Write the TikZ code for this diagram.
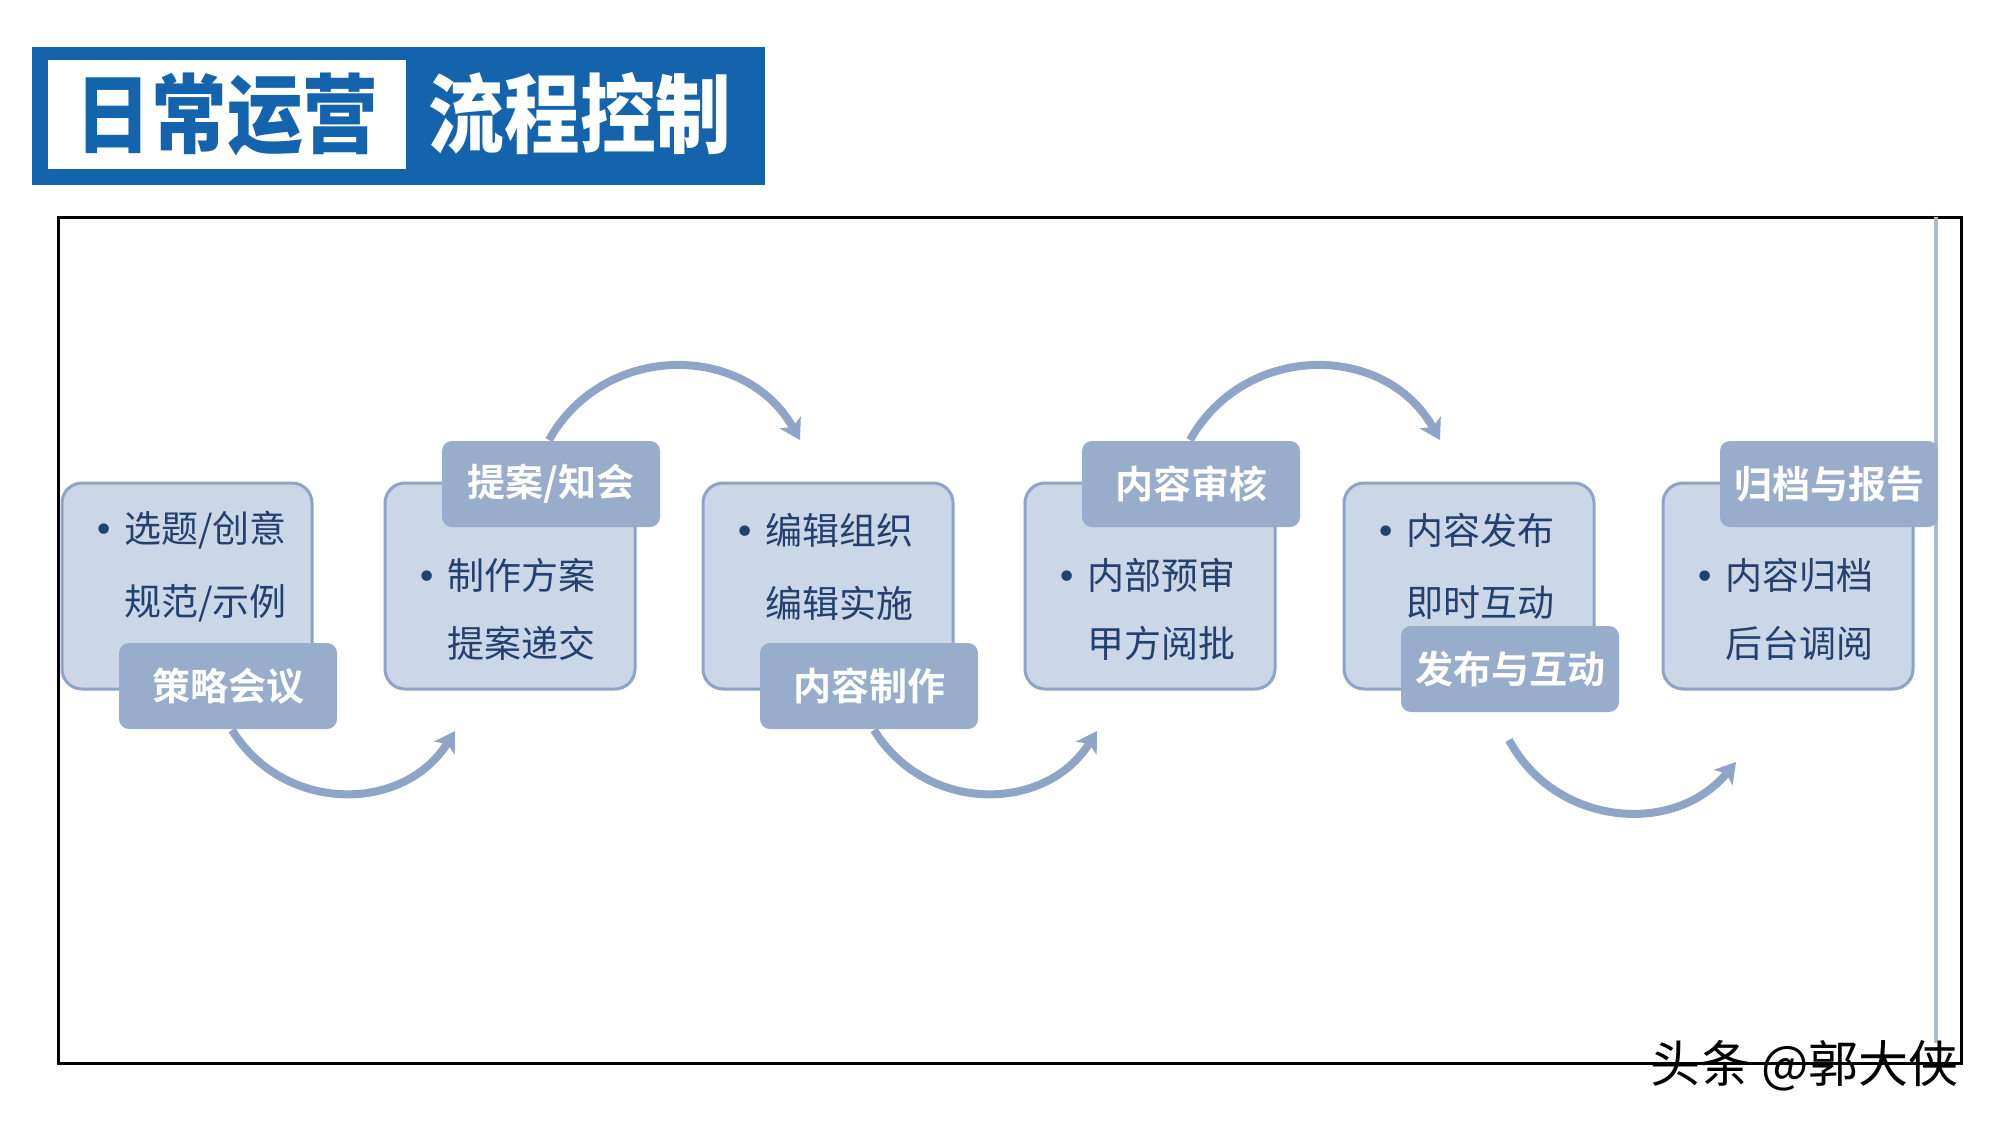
\documentclass[tikz,border=0pt]{standalone}
\usepackage{fontspec}
\usepackage{graphicx}
\usetikzlibrary{arrows.meta}
\newfontfamily\cjk{Noto Sans CJK SC}[BoldFont={Noto Sans CJK SC Bold}]
\newfontfamily\cjkblack{Noto Sans CJK SC Black}
\newfontfamily\bulfont{DejaVu Sans}
\definecolor{titleblue}{HTML}{1363AD}
\definecolor{boxfill}{HTML}{CBD6E6}
\definecolor{boxline}{HTML}{8DA4C6}
\definecolor{labfill}{HTML}{98ADCB}
\definecolor{arrowc}{HTML}{8EA5C7}
\definecolor{navy}{HTML}{22416F}
\definecolor{sideline}{HTML}{A8BAD4}
\begin{document}
\begin{tikzpicture}[x=1pt,y=-1pt,
  box/.style={draw=boxline, line width=3pt, fill=boxfill, rounded corners=20pt,
    minimum width=250pt, minimum height=206pt, inner sep=0pt},
  lab/.style={fill=labfill, rounded corners=10pt, minimum width=218pt,
    minimum height=86pt, inner sep=0pt, text=white,
    font={\cjk\bfseries\fontsize{38}{40}\selectfont}},
  txt/.style={anchor=west, inner sep=0pt, text=navy,
    font={\cjk\fontsize{37}{40}\selectfont}},
  bul/.style={inner sep=0pt, anchor=base, text=navy, font={\bulfont\fontsize{36}{36}\selectfont}},
  flow/.style={draw=arrowc, line width=8pt, -{Stealth[length=20pt,width=24pt,inset=5pt]}},
  ttl/.style={inner sep=0pt, font={\cjkblack\fontsize{86}{90}\selectfont}},
]
\useasboundingbox (0,0) rectangle (2000,1125);
\fill[white] (0,0) rectangle (2000,1125);

% title
\fill[titleblue] (32,47) rectangle (765,185);
\fill[white] (48,60) rectangle (406,169);
\node[ttl, text=titleblue] (t1) at (227,114) {\scalebox{0.88}[1]{日常运营}};
\node[ttl, text=white] (t2) at (580,114) {\scalebox{0.88}[1]{流程控制}};

% frame
\draw[line width=3pt] (58,217) rectangle (1961,1063);
\draw[line width=4pt, sideline] (1936,217) -- (1936,1043);

% arrows
\coordinate (a1s) at (232,730); \coordinate (a1e) at (455,731);
\coordinate (a2s) at (549,440); \coordinate (a2e) at (800,440);
\coordinate (a3s) at (874,730); \coordinate (a3e) at (1097,731);
\coordinate (a4s) at (1190,440); \coordinate (a4e) at (1440,440);
\coordinate (a5s) at (1509,740); \coordinate (a5e) at (1736,762);
\draw[flow] (a1s) .. controls +(51,83) and +(-52,83) .. (a1e);
\draw[flow] (a2s) .. controls +(55,-98) and +(-55,-98) .. (a2e);
\draw[flow] (a3s) .. controls +(51,83) and +(-52,83) .. (a3e);
\draw[flow] (a4s) .. controls +(55,-98) and +(-55,-98) .. (a4e);
\draw[flow] (a5s) .. controls +(46,86) and +(-62,75) .. (a5e);

% boxes
\node[box] (b1) at (187,586) {};
\node[box] (b2) at (510,586) {};
\node[box] (b3) at (828,586) {};
\node[box] (b4) at (1150,586) {};
\node[box] (b5) at (1469,586) {};
\node[box] (b6) at (1788,586) {};

% box texts
\node[txt] (x1a) at (124,530) {选题/创意};
\node[txt] (x1b) at (124,603) {规范/示例};
\node[bul] (d1) at (x1a.base -| 104,0) {•};

\node[txt] (x2a) at (447,575) {制作方案};
\node[txt] (x2b) at (447,643) {提案递交};
\node[bul] (d2) at (x2a.base -| 427,0) {•};

\node[txt] (x3a) at (765,530) {编辑组织};
\node[txt] (x3b) at (765,603) {编辑实施};
\node[bul] (d3) at (x3a.base -| 745,0) {•};

\node[txt] (x4a) at (1087,575) {内部预审};
\node[txt] (x4b) at (1087,643) {甲方阅批};
\node[bul] (d4) at (x4a.base -| 1067,0) {•};

\node[txt] (x5a) at (1406,530) {内容发布};
\node[txt] (x5b) at (1406,603) {即时互动};
\node[bul] (d5) at (x5a.base -| 1386,0) {•};

\node[txt] (x6a) at (1725,575) {内容归档};
\node[txt] (x6b) at (1725,643) {后台调阅};
\node[bul] (d6) at (x6a.base -| 1705,0) {•};

% labels
\node[lab] (l1) at (228,686) {策略会议};
\node[lab] (l2) at (551,484) {提案/知会};
\node[lab] (l3) at (869,686) {内容制作};
\node[lab] (l4) at (1191,484) {内容审核};
\node[lab] (l5) at (1510,669) {发布与互动};
\node[lab] (l6) at (1829,484) {归档与报告};

% watermark
\node[anchor=west, inner sep=0pt, font={\cjk\fontsize{50}{50}\selectfont}] (wm) at (1650,1066) {头条 @郭大侠};
\end{tikzpicture}
\end{document}
